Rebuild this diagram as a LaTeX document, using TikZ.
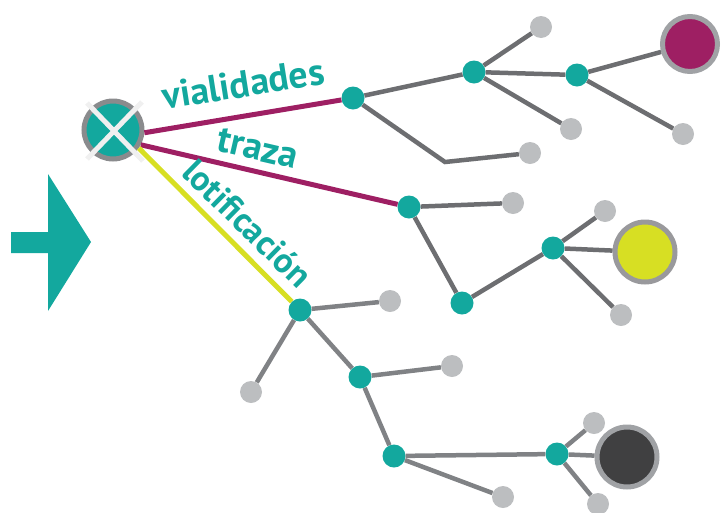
\documentclass[tikz,border=0pt]{standalone}
\usepackage{fontspec}
\setmainfont{PT Sans}
\definecolor{verde}{HTML}{13A89E}
\definecolor{morado}{HTML}{9E1F63}
\definecolor{amarillo}{HTML}{D7DF23}
\definecolor{lineagris}{HTML}{6D6E71}
\definecolor{lineaclara}{HTML}{808285}
\definecolor{hojagris}{HTML}{BCBEC0}
\definecolor{anillo}{HTML}{A0A2A5}
\definecolor{oscuro}{HTML}{404041}
\begin{document}
\begin{tikzpicture}[x=1pt,y=-1pt,
  nodo/.style={circle,fill=verde,inner sep=0pt,minimum size=23pt},
  hoja/.style={circle,fill=hojagris,inner sep=0pt,minimum size=22pt},
  meta/.style={circle,draw=anillo,line width=5pt,inner sep=0pt,minimum size=#1},
  rama/.style={line width=4.5pt,draw=lineagris},
  ramaclara/.style={line width=4.5pt,draw=lineaclara},
  etiqueta/.style={text=verde,font=\bfseries\fontsize{#1}{#1}\selectfont,inner sep=0pt,anchor=base}]
  \useasboundingbox (0,0) rectangle (723,512);
  % flecha de entrada
  \fill[verde] (11,232)--(48,232)--(48,174)--(91,242)--(48,311)--(48,253)--(11,253)--cycle;
  % nodo central
  \node[circle,fill=verde,draw=lineagris!80,line width=5pt,inner sep=0pt,minimum size=58pt] (hub) at (113,130) {};
  \draw[line width=5pt,draw=white!94!black] ([shift={(-26,-27)}]hub.center)--([shift={(30,31)}]hub.center);
  \draw[line width=5pt,draw=white!94!black] ([shift={(29,-28)}]hub.center)--([shift={(-26,29)}]hub.center);
  % rama superior
  \node[nodo] (a) at (353,98) {};
  \node[nodo] (b) at (474,72) {};
  \node[nodo] (c) at (577,75) {};
  \node[meta=55pt,fill=morado] (m) at (690,44) {};
  \node[hoja] (h1) at (541,27) {};
  \node[hoja] (h2) at (571,129) {};
  \node[hoja] (h3) at (683,134) {};
  \node[hoja] (h4) at (530,153) {};
  \coordinate (q) at (445,162);
  \draw[rama] (a)--(b);
  \draw[rama] (b)--(h1);
  \draw[rama] (b)--(c);
  \draw[rama] (b)--(h2);
  \draw[rama] (c)--(m);
  \draw[rama] (c)--(h3);
  \draw[rama,line join=miter] (a)--(q)--(h4);
  % rama media
  \node[nodo] (d) at (409,207) {};
  \node[nodo] (e) at (462,303) {};
  \node[nodo] (f) at (553,248) {};
  \node[meta=60pt,fill=amarillo,draw=lineagris!70] (y) at (645,252) {};
  \node[hoja] (h5) at (513,203) {};
  \node[hoja] (h6) at (605,211) {};
  \node[hoja] (h7) at (621,315) {};
  \draw[rama] (d)--(h5);
  \draw[rama] (d)--(e);
  \draw[rama] (e)--(f);
  \draw[rama] (f)--(h6);
  \draw[rama] (f)--(y);
  \draw[rama] (f)--(h7);
  % rama inferior
  \node[nodo] (g) at (300,310) {};
  \node[nodo] (i) at (360,377) {};
  \node[nodo] (j) at (394,456) {};
  \node[nodo] (k) at (557,454) {};
  \node[meta=60pt,fill=oscuro] (o) at (627,457) {};
  \node[hoja] (h8) at (390,301) {};
  \node[hoja] (h9) at (251,392) {};
  \node[hoja] (h10) at (452,366) {};
  \node[hoja] (h11) at (503,497) {};
  \node[hoja] (h12) at (594,423) {};
  \node[hoja] (h13) at (598,504) {};
  \draw[ramaclara] (g)--(h8);
  \draw[ramaclara] (g)--(h9);
  \draw[ramaclara] (g)--(i);
  \draw[ramaclara] (i)--(h10);
  \draw[ramaclara] (i)--(j);
  \draw[ramaclara] (j)--(k);
  \draw[ramaclara] (j)--(h11);
  \draw[ramaclara] (k)--(h12);
  \draw[ramaclara] (k)--(h13);
  \draw[ramaclara] (k)--(o);
  % enlaces del nodo central
  \draw[line width=5pt,morado] (hub.-5)--(a);
  \draw[line width=5pt,morado] (hub.-28)--(d);
  \draw[line width=5pt,amarillo] (hub.-35)--(g);
  % etiquetas
  \node[etiqueta=38,rotate=9] (vial) at (245,97) {vialidades};
  \node[etiqueta=38,rotate=-13] (traza) at (255,160) {traza};
  \node[etiqueta=35,rotate=-44.5] (lotif) at (239,232) {lotificación};
\end{tikzpicture}
\end{document}
